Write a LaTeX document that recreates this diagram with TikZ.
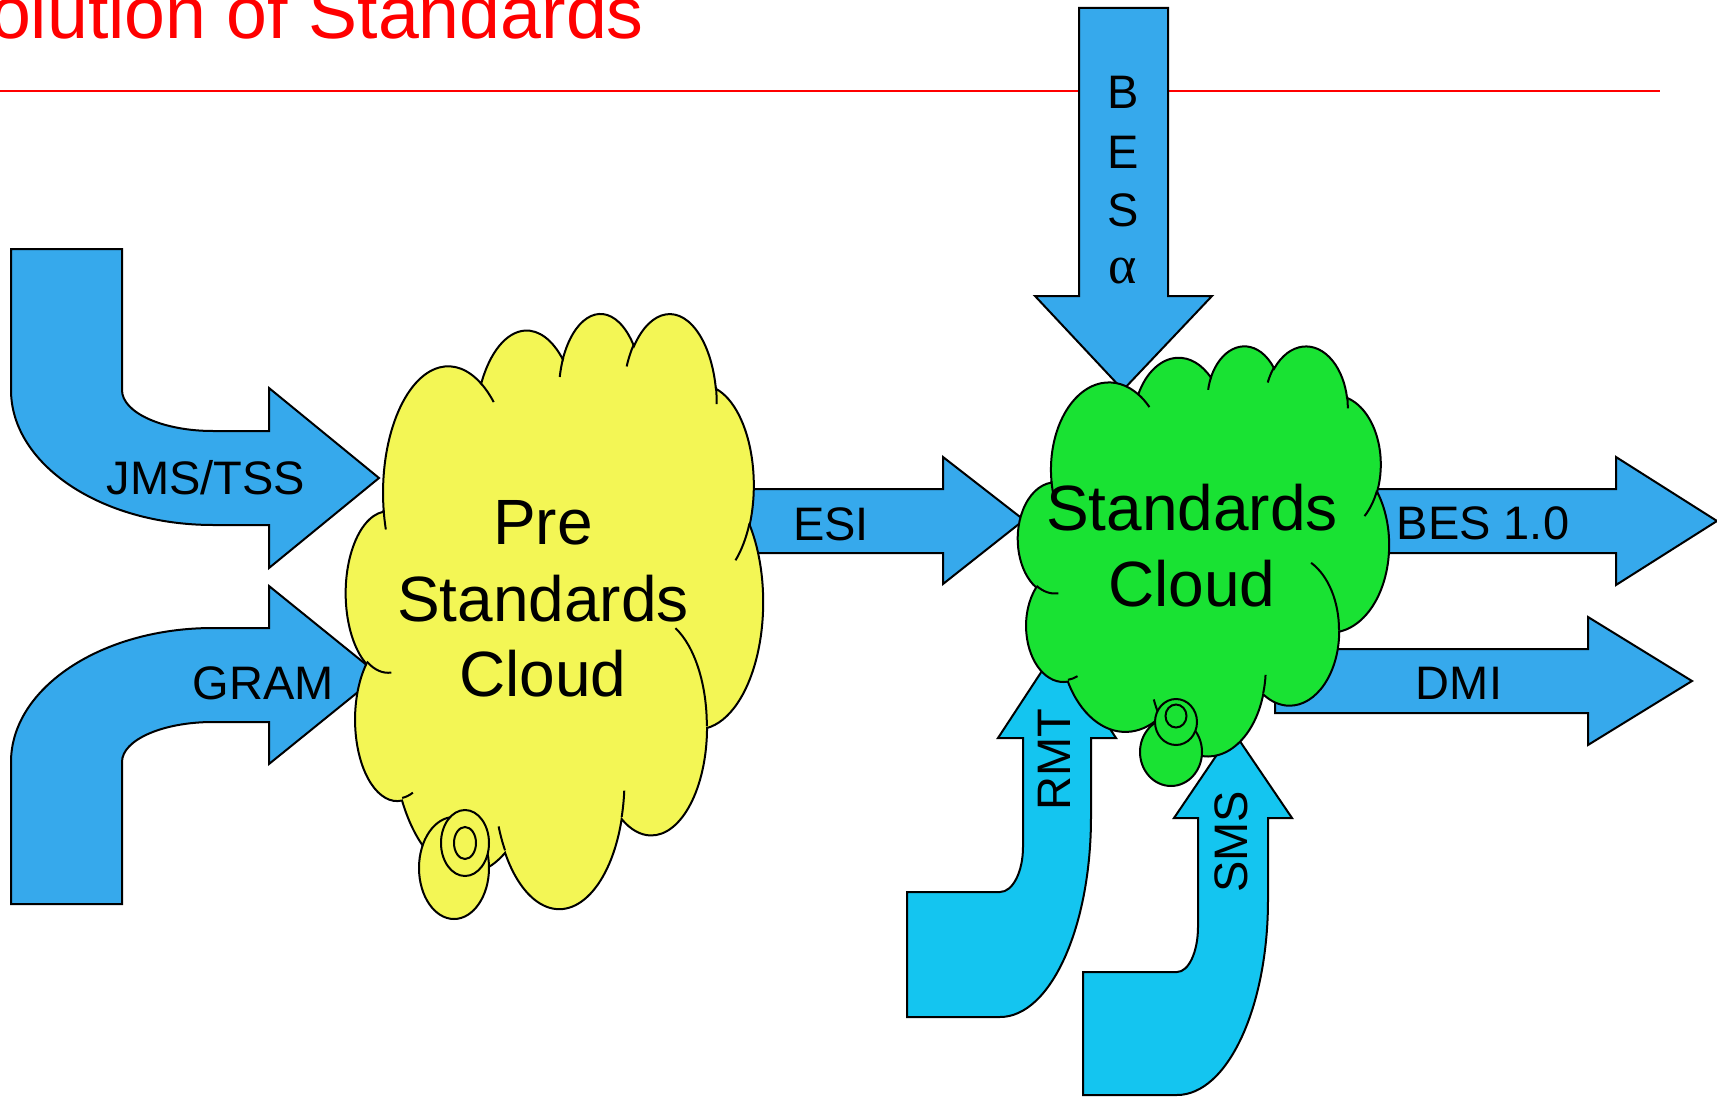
\documentclass[tikz,border=0pt]{standalone}
\usepackage{fontspec}
\setmainfont{Liberation Sans}
\newfontfamily\greekserif{Liberation Serif}

\definecolor{arrowblue}{RGB}{54,169,236}
\definecolor{arrowcyan}{RGB}{20,197,240}
\definecolor{cloudyellow}{RGB}{243,246,85}
\definecolor{cloudgreen}{RGB}{25,226,51}
\definecolor{titlered}{RGB}{255,0,0}

\tikzset{
  % elliptical arc given by visual start angle and sweep (y axis downwards)
  ooarc/.style n args={4}{
    start angle={ooT(#1,#2,#3)},
    delta angle={mod(ooT(#1,#2,(#3)+(#4))-ooT(#1,#2,#3)+720,360)},
    x radius=#1, y radius=#2},
  shapeline/.style={draw=black, line width=2pt},
  bluearrow/.style={shapeline, fill=arrowblue},
  cyanarrow/.style={shapeline, fill=arrowcyan},
  arrowlabel/.style={font=\fontsize{47}{56}\selectfont, inner sep=0pt, anchor=base},
  cloudlabel/.style={font=\fontsize{64}{76}\selectfont, inner sep=0pt, anchor=base},
}

% cloud outline and its inner creases, in a 432 x 432 frame
\newcommand\cloudshape[1]{%
  \path[shapeline, fill=#1] (39.00,143.70)
    arc[ooarc={67.53}{91.90}{-190.4875}{123.7805}]
    arc[ooarc={53.33}{72.67}{-144.1024}{89.9452}]
    arc[ooarc={43.65}{59.45}{-145.8079}{99.7230}]
    arc[ooarc={48.57}{65.95}{-130.9861}{117.2417}]
    arc[ooarc={53.33}{72.73}{-78.7089}{109.0269}]
    arc[ooarc={67.75}{92.20}{-46.2673}{130.2690}]
    arc[ooarc={57.85}{78.67}{0.6250}{114.0333}]
    arc[ooarc={67.52}{92.15}{22.4516}{115.1726}]
    arc[ooarc={77.20}{105.43}{66.2426}{75.7110}]
    arc[ooarc={43.60}{59.18}{-274.9421}{146.7356}]
    arc[ooarc={43.45}{59.45}{-246.8285}{152.5189}]
    -- cycle;
  \path[shapeline]
    (46.93,261.77) arc[ooarc={43.45}{59.45}{86.7420}{26.4295}]
    (69.28,348.99) arc[ooarc={43.60}{59.18}{73.6105}{11.4475}]
    (164.78,390.90) arc[ooarc={67.52}{92.15}{137.6242}{14.0811}]
    (288.27,347.51) arc[ooarc={67.52}{92.15}{6.4533}{15.9984}]
    (341.29,229.54) arc[ooarc={57.85}{78.67}{-70.2924}{70.9174}]
    (417.98,153.54) arc[ooarc={53.33}{72.73}{30.3180}{27.7515}]
    (383.24,54.26) arc[ooarc={48.57}{65.95}{-13.7443}{14.8589}]
    (290.78,39.52) arc[ooarc={48.57}{65.95}{-149.1815}{18.1954}]
    (221.41,47.20) arc[ooarc={43.65}{59.45}{-163.4943}{17.6864}]
    (140.00,51.92) arc[ooarc={67.53}{91.90}{-66.7070}{12.3194}]
    (41.27,157.89) arc[ooarc={67.53}{91.90}{157.6544}{11.8582}];
}

\begin{document}
\begin{tikzpicture}[x=1pt, y=-1pt,
  declare function={ooT(\qa,\qb,\qc)=atan2(\qa*sin(\qc),\qb*cos(\qc));}]
\useasboundingbox (0,0) rectangle (1717,1097);
\fill[white] (0,0) rectangle (1717,1097);
\clip (0,0) rectangle (1717,1097);

% title and rule
\node[font=\fontsize{73.5}{80}\selectfont, text=titlered, inner sep=0pt,
      anchor=base east] (title) at (644,39) {Evolution of Standards};
\draw[titlered, line width=2pt] (0,91) -- (1660,91);

% bent arrows into the first cloud
\path[bluearrow] (11,249) -- (122,249) -- (122,390)
  arc[start angle=180, end angle=90, x radius=91, y radius=41]
  -- (269,431) -- (269,388) -- (379,478) -- (269,568) -- (269,525) -- (213,525)
  arc[start angle=90, end angle=180, x radius=202, y radius=135] -- cycle;
\path[bluearrow] (11,904) -- (122,904) -- (122,762)
  arc[start angle=180, end angle=270, x radius=91, y radius=40]
  -- (269,722) -- (269,764) -- (379,675) -- (269,586) -- (269,628) -- (213,628)
  arc[start angle=270, end angle=180, x radius=202, y radius=134] -- cycle;

% straight arrows
\path[bluearrow] (700,489) -- (943,489) -- (943,457) -- (1024,520)
  -- (943,584) -- (943,553) -- (700,553) -- cycle;
\path[bluearrow] (1230,489) -- (1616,489) -- (1616,457) -- (1717,521)
  -- (1616,585) -- (1616,553) -- (1230,553) -- cycle;
\path[bluearrow] (1275,649) -- (1588,649) -- (1588,617) -- (1692,681)
  -- (1588,745) -- (1588,713) -- (1275,713) -- cycle;
\path[bluearrow] (1079,8) -- (1168,8) -- (1168,296) -- (1212,296)
  -- (1123,390) -- (1035,296) -- (1079,296) -- cycle;

% upward bent arrows
\path[cyanarrow] (1057,648) -- (1116,738) -- (1091,738) -- (1091,817)
  arc[start angle=0, end angle=90, x radius=91, y radius=200]
  -- (907,1017) -- (907,892) -- (1000,892)
  arc[start angle=90, end angle=0, x radius=23, y radius=45]
  -- (1023,738) -- (998,738) -- cycle;
\path[cyanarrow] (1233,731) -- (1292,818) -- (1268,818) -- (1268,900)
  arc[start angle=0, end angle=90, x radius=91, y radius=195]
  -- (1083,1095) -- (1083,972) -- (1177,972)
  arc[start angle=90, end angle=0, x radius=21, y radius=45]
  -- (1198,818) -- (1174,818) -- cycle;

% arrow labels
\node[arrowlabel] (jms) at (206,494) {JMS/TSS};
\node[arrowlabel] (gram) at (263,699) {GRAM};
\node[arrowlabel] (esi) at (831,540) {ESI};
\node[arrowlabel] (bes) at (1483,539) {BES 1.0};
\node[arrowlabel] (dmi) at (1459,699) {DMI};
\node[arrowlabel] (besB) at (1123,109) {B};
\node[arrowlabel] (besE) at (1123,168) {E};
\node[arrowlabel] (besS) at (1123,226) {S};
\node[arrowlabel, font=\fontsize{54}{60}\selectfont\greekserif] (besA) at (1123,283) {α};
\node[arrowlabel, rotate=90] (rmt) at (1070,760) {RMT};
\node[arrowlabel, rotate=90] (sms) at (1247,842) {SMS};

% pre-standards cloud
\begin{scope}[shift={(346,312)}, x=0.96528pt, y=-1.37731pt]
  \cloudshape{cloudyellow}
\end{scope}
\draw[shapeline, fill=cloudyellow] (454,868) ellipse [x radius=35, y radius=51];
\draw[shapeline, fill=cloudyellow] (465,843) ellipse [x radius=24, y radius=33];
\draw[shapeline, fill=cloudyellow] (465,843) ellipse [x radius=11, y radius=16];
\node[cloudlabel] (pre1) at (543,544) {Pre};
\node[cloudlabel] (pre2) at (543,621) {Standards};
\node[cloudlabel] (pre3) at (543,696) {Cloud};

% standards cloud
\begin{scope}[shift={(1018,345)}, x=0.85880pt, y=-0.94907pt]
  \cloudshape{cloudgreen}
\end{scope}
\draw[shapeline, fill=cloudgreen] (1171,752) ellipse [x radius=31, y radius=34];
\draw[shapeline, fill=cloudgreen] (1176,722) ellipse [x radius=21, y radius=23];
\draw[shapeline, fill=cloudgreen] (1176,716) ellipse [x radius=10.5, y radius=11.5];
\node[cloudlabel] (std1) at (1192,530) {Standards};
\node[cloudlabel] (std2) at (1192,606) {Cloud};
\end{tikzpicture}
\end{document}
